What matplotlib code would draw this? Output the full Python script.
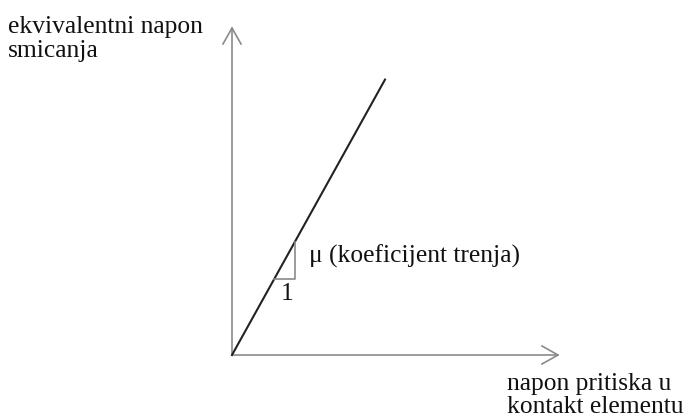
import matplotlib.pyplot as plt

# diagram units: 1 unit ~ 1 px, origin at the corner of the axes
x_axis_len = 326
y_axis_len = 327
mu = 1.80                 # slope of the friction line
line_x = [0, 153]         # start / end of the friction line
tri_x = [42, 63]          # foot and right edge of the slope triangle

y_label = ['ekvivalentni napon', 'smicanja']
x_label = ['napon pritiska u', 'kontakt elementu']
mu_label = 'μ (koeficijent trenja)'

axis_color = '#8a8a8a'
text_color = '#111111'
fs = 18.4
plt.rcParams['font.family'] = ['Liberation Serif', 'DejaVu Serif']

fig = plt.figure(figsize=(6.88, 4.2), dpi=100)
ax = fig.add_axes([0, 0, 1, 1])
ax.set_xlim(-232, 456)
ax.set_ylim(-65, 355)
ax.axis('off')

# axes with open arrowheads
ax.plot([0, x_axis_len], [0, 0], color=axis_color, lw=1.2)
ax.plot([0, 0], [0, y_axis_len], color=axis_color, lw=1.2)
hl, hw = 16, 9
ax.plot([x_axis_len - hl, x_axis_len, x_axis_len - hl], [hw, 0, -hw],
        color=axis_color, lw=1.2)
ax.plot([-hw, 0, hw], [y_axis_len - hl, y_axis_len, y_axis_len - hl],
        color=axis_color, lw=1.2)

# friction line  tau = mu * p
ax.plot(line_x, [mu * v for v in line_x], color='#222222', lw=1.5)

# slope triangle
y0 = mu * tri_x[0]
y1 = mu * tri_x[1]
ax.plot([tri_x[0], tri_x[1], tri_x[1]], [y0, y0, y1], color=axis_color, lw=1.2)

ax.text(55, 55, '1', ha='center', va='baseline', fontsize=fs, color=text_color)
ax.text(77, 92, mu_label, ha='left', va='baseline', fontsize=fs, color=text_color)

# axis titles, one text per line
for i, s in enumerate(y_label):
    ax.text(-224, 322 - 24 * i, s, ha='left', va='baseline', fontsize=fs,
            color=text_color)
for i, s in enumerate(x_label):
    ax.text(275, -35 - 23 * i, s, ha='left', va='baseline', fontsize=fs,
            color=text_color)

fig.savefig('out.png', dpi=100)
